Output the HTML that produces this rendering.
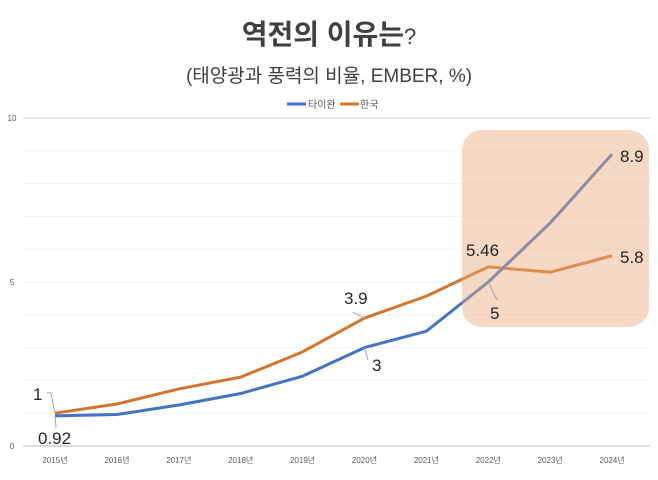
<!DOCTYPE html>
<html><head><meta charset="utf-8">
<style>
html,body{margin:0;padding:0;background:#fff;}
body{width:658px;height:475px;overflow:hidden;font-family:"Liberation Sans","Noto Sans CJK KR",sans-serif;}
</style></head>
<body>
<svg id="chart" width="658" height="475" xmlns="http://www.w3.org/2000/svg" font-family="Liberation Sans, Noto Sans CJK KR, sans-serif">
<text x="329" y="44" text-anchor="middle" font-size="28" font-weight="bold" fill="#404040">역전의 이유는<tspan font-weight="normal" font-size="22">?</tspan></text>
<text x="329" y="82" text-anchor="middle" font-size="19" fill="#404040">(태양광과 풍력의 비율, EMBER, %)</text>
<g>
<line x1="287" y1="104" x2="306" y2="104" stroke="#4472c4" stroke-width="3"/>
<text x="308" y="108" font-size="10" fill="#595959">타이완</text>
<line x1="340" y1="104" x2="359" y2="104" stroke="#d2762f" stroke-width="3"/>
<text x="360" y="108" font-size="10" fill="#595959">한국</text>
</g>
<g id="grid"></g>
<g id="series"></g>
<rect x="462" y="130" width="187" height="197" rx="20" fill="rgb(234,170,125)" fill-opacity="0.45"/>
<g id="labels"></g>
</svg>
<script>
const categories=["2015년","2016년","2017년","2018년","2019년","2020년","2021년","2022년","2023년","2024년"];
const taiwan=[0.92,0.96,1.25,1.6,2.13,3.0,3.5,5.0,6.8,8.9];
const korea=[1.0,1.28,1.74,2.1,2.87,3.9,4.57,5.46,5.3,5.8];
const yTicks=[0,5,10];
const NS="http://www.w3.org/2000/svg";
const x=i=>55+i*61.9;
const y=v=>446-v*32.8;
function mk(t,a,p){const e=document.createElementNS(NS,t);for(const k in a)e.setAttribute(k,a[k]);p.appendChild(e);return e;}
const grid=document.getElementById('grid');
for(let v=0;v<=10;v++){
 const l=mk('line',{x1:23,x2:650,y1:y(v),y2:y(v),stroke:v===0?'#d0d0d0':(v===10?'#e0e0e0':'#f2f2f2'),'stroke-width':v===10||v===0?1.5:1},grid);
 
 
}
yTicks.forEach(v=>{const t=mk('text',{x:12,y:y(v)+3,'text-anchor':'middle','font-size':8,fill:'#595959'},grid);t.textContent=v;
 
 });
categories.forEach((c,i)=>{const t=mk('text',{x:x(i),y:463,'text-anchor':'middle','font-size':8,fill:'#595959'},grid);t.textContent=c;
 
 });
const s=document.getElementById('series');
[[korea,'#d2762f','korea-line'],[taiwan,'#4472c4','taiwan-line']].forEach(([d,c,n])=>{
 const p=mk('polyline',{points:d.map((v,i)=>x(i)+','+y(v)).join(' '),fill:'none',stroke:c,'stroke-width':3,'stroke-linejoin':'round'},s);
 
 
});
const L=document.getElementById('labels');
function lab(txt,lx,ly,lead){
 if(lead){const pl=mk('polyline',{points:lead,fill:'none',stroke:'#a6a6a6','stroke-width':1},L);
  
  }
 const t=mk('text',{x:lx,y:ly,'font-size':17,fill:'#262626'},L);t.textContent=txt;
 
 
}
lab(String(korea[0]),33,400,`47,393 51,393 ${x(0)},${y(korea[0])}`);
lab(String(taiwan[0]),38,444,`${x(0)},${y(taiwan[0])} 56,428`);
lab(String(korea[5]),344,304,`${x(5)-12},${y(korea[5])-6} ${x(5)},${y(korea[5])}`);
lab(String(taiwan[5]),372,371,`${x(5)},${y(taiwan[5])} 368,360`);
lab(String(korea[7]),466,256,null);
lab(String(taiwan[7]),490,319,`${x(7)},${y(taiwan[7])} 497,300`);
lab(String(taiwan[9]),620,162,null);
lab(String(korea[9]),620,263,null);
</script>
</body></html>
